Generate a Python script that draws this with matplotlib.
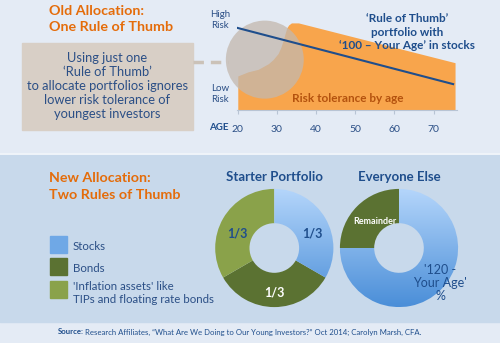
import numpy as np
import matplotlib
matplotlib.use("Agg")
import matplotlib.pyplot as plt
from matplotlib.patches import Rectangle, Ellipse

plt.rcParams['font.family'] = ['Lato', 'DejaVu Sans']

# data
rule_ages = [20, 75]
rule_stocks = [80, 25]
tol_ages = [20, 22.6, 25.2, 27.8, 29, 30.3, 31, 31.6, 32.5, 33, 33.7, 35.5, 75.5]
tol_vals = [33, 37, 39.5, 45, 49, 55, 61, 68, 80, 83, 85, 85, 46]
age_ticks = [20, 30, 40, 50, 60, 70]

starter_labels = ['Stocks', 'Bonds', "'Inflation assets' like\nTIPs and floating rate bonds"]
starter_shares = [1, 1, 1]
starter_text = ['1/3', '1/3', '1/3']
else_shares = [75, 25]

BLUE_T = '#1f4e8c'
ORANGE = '#e46c0a'
GREEN = '#8aa24a'
DGREEN = '#5b7232'
BLUE = '#6fa8e6'

fig = plt.figure(figsize=(5, 3.43), dpi=100)
bg = fig.add_axes([0, 0, 1, 1])
bg.set_xlim(0, 500)
bg.set_ylim(343, 0)
bg.axis('off')
bg.set_zorder(0)

# overlay for text that sits on top of the chart
fg = fig.add_axes([0, 0, 1, 1])
fg.set_xlim(0, 500)
fg.set_ylim(343, 0)
fg.axis('off')
fg.set_zorder(5)
fg.set_facecolor('none')

# backgrounds
bg.add_patch(Rectangle((0, 0), 500, 343, color='#e4ebf5'))
bg.add_patch(Rectangle((0, 155), 500, 167, color='#c8d9eb'))
bg.plot([0, 500], [154, 154], color='#f2f6fb', lw=1.2)

# top section text
bg.text(49, 11, 'Old Allocation:', color=ORANGE, fontsize=10.3, fontweight='bold', va='center')
bg.text(49, 27, 'One Rule of Thumb', color=ORANGE, fontsize=10.3, fontweight='bold', va='center')
bg.add_patch(Rectangle((22, 43), 171, 87, color='#d8cfc6'))
bg.text(107.5, 86.5, "Using just one\n\u2018Rule of Thumb\u2019\nto allocate portfolios ignores\nlower risk tolerance of\nyoungest investors",
        ha='center', va='center', color='#2b4f86', fontsize=9.3, linespacing=1.2)
bg.plot([193, 228], [62, 62], color='#cbc2b8', lw=2.5, ls=(0, (3, 2)))
bg.text(220, 20, 'High\nRisk', ha='center', va='center', color='#2b4f86', fontsize=7, linespacing=1.3)
bg.text(220, 94, 'Low\nRisk', ha='center', va='center', color='#2b4f86', fontsize=7, linespacing=1.3)
bg.text(219, 127, 'AGE', ha='center', va='center', color=BLUE_T, fontsize=7, fontweight='bold')
fg.text(407, 32, "\u2018Rule of Thumb\u2019\nportfolio with\n\u2018100 \u2013 Your Age\u2019 in stocks",
        ha='center', va='center', color=BLUE_T, fontsize=8.5, fontweight='bold', linespacing=1.25)

# line chart
ax = fig.add_axes([237 / 500, 1 - 109.6 / 343, 220 / 500, 102 / 343])
ax.set_facecolor('none')
ax.set_zorder(1)
ax.set_xlim(19.8, 76)
ax.set_ylim(0, 100)
ax.fill_between(tol_ages, 0, tol_vals, color='#f8a54c', lw=0, zorder=1)
ax.add_patch(Ellipse((26.9, 49), 19.9, 76.5, color='#c3b8ae', alpha=0.75, zorder=2, clip_on=False, lw=0))
ax.plot(rule_ages, rule_stocks, color=BLUE_T, lw=1.5, zorder=3)
ax.text(48, 11, 'Risk tolerance by age', color='#b4520e', fontsize=8.5, fontweight='bold', ha='center', va='center', zorder=4)
for s in ['top', 'right', 'left']:
    ax.spines[s].set_visible(False)
ax.spines['bottom'].set_color('#b8c4d4')
ax.set_yticks([])
ax.set_xticks(age_ticks)
ax.tick_params(axis='x', length=3, color='#b8c4d4', labelsize=7.5, labelcolor='#2b4f86', pad=8)

# bottom section text
bg.text(49, 178, 'New Allocation:', color=ORANGE, fontsize=10.3, fontweight='bold', va='center')
bg.text(49, 195, 'Two Rules of Thumb', color=ORANGE, fontsize=10.3, fontweight='bold', va='center')
legend_y = [244, 266, 289]
legend_c = [BLUE, DGREEN, GREEN]
for yy, cc, lab in zip(legend_y, legend_c, starter_labels):
    bg.add_patch(Rectangle((50, yy - 8.5), 17, 17, color=cc))
    ty = yy + 4 if '\n' in lab else yy + 2
    bg.text(73, ty, lab, color='#2b4f86', fontsize=8.3, va='center', linespacing=1.25)

bg.text(274, 177, 'Starter Portfolio', ha='center', va='center', color=BLUE_T, fontsize=9.5, fontweight='bold')
bg.text(399, 177, 'Everyone Else', ha='center', va='center', color=BLUE_T, fontsize=9.5, fontweight='bold')

grad = np.linspace(0, 1, 256).reshape(-1, 1)
blue_cmap = matplotlib.colors.LinearSegmentedColormap.from_list('b', ['#b5d6fb', '#4a8ed8'])


def donut(cx, shares, colors, gradient_idx):
    a = fig.add_axes([(cx - 65) / 500, 1 - (248 + 65) / 343, 130 / 500, 130 / 343])
    a.set_facecolor('none')
    a.set_zorder(1)
    wedges, _ = a.pie(shares, colors=colors, startangle=90, counterclock=False,
                      radius=1, wedgeprops=dict(width=0.58, lw=0))
    w = wedges[gradient_idx]
    w.set_facecolor('none')
    im = a.imshow(grad, cmap=blue_cmap, extent=[-1, 1, -1, 1], aspect='auto', origin='upper', zorder=1)
    im.set_clip_path(w)
    a.set_xlim(-1.1, 1.1)
    a.set_ylim(-1.1, 1.1)
    a.set_aspect('equal')
    a.axis('off')
    return a


d1 = donut(274.3, starter_shares, [BLUE, DGREEN, GREEN], 0)
d1.text(0.65, 0.25, starter_text[0], ha='center', va='center', color=BLUE_T, fontsize=9, fontweight='bold', zorder=5)
d1.text(0.0, -0.75, starter_text[1], ha='center', va='center', color='white', fontsize=9, fontweight='bold', zorder=5)
d1.text(-0.62, 0.25, starter_text[2], ha='center', va='center', color=BLUE_T, fontsize=9, fontweight='bold', zorder=5)

d2 = donut(399, else_shares, [BLUE, DGREEN], 0)
d2.text(-0.4, 0.45, 'Remainder', ha='center', va='center', color='white', fontsize=6.5, fontweight='bold', zorder=5)
d2.text(0.7, -0.6, "'120 -\nYour Age'\n%", ha='center', va='center', color=BLUE_T, fontsize=9, zorder=5, linespacing=1.1)

# footer
bg.text(58, 332, 'Source:', color=BLUE_T, fontsize=5.6, fontweight='bold', va='center')
bg.text(85, 332, 'Research Affiliates, \u201cWhat Are We Doing to Our Young Investors?\u201d Oct 2014; Carolyn Marsh, CFA.',
        color=BLUE_T, fontsize=5.6, va='center')

fig.savefig('out.png', dpi=100)
